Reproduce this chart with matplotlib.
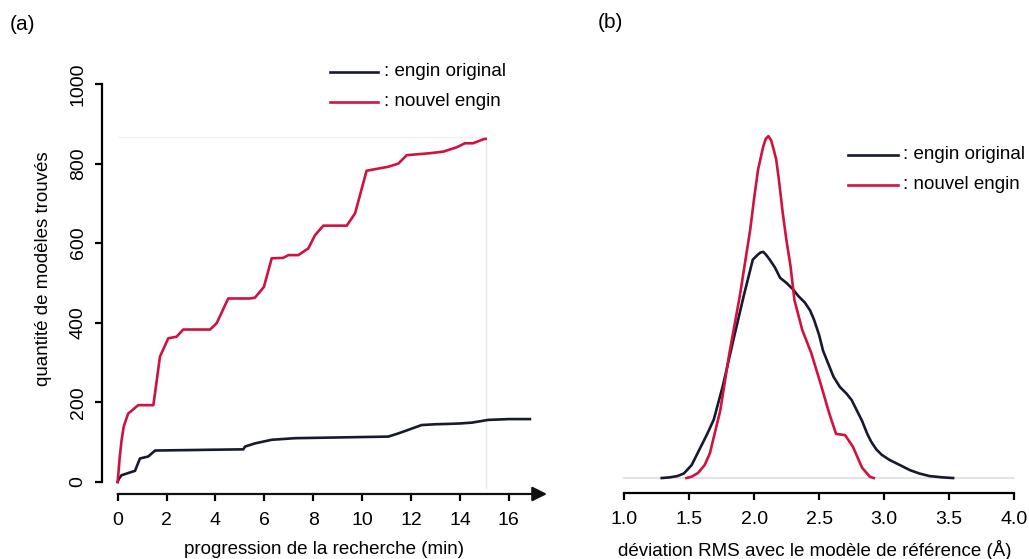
import matplotlib
matplotlib.use('Agg')
import matplotlib.pyplot as plt

plt.rcParams['font.family'] = ['Liberation Sans', 'DejaVu Sans']

# (a) nombre cumulé de modèles trouvés au cours de la recherche
temps_original = [0.0, 0.05, 0.16, 0.71, 0.91, 1.25, 1.53, 5.14, 5.21, 5.62, 6.30, 7.25,
                  11.07, 11.48, 11.89, 12.43, 13.0, 13.6, 14.0, 14.48, 15.16, 15.6,
                  16.0, 16.86]
modeles_original = [0, 8, 17, 28, 59, 64, 79, 82, 89, 97, 106, 110,
                    114, 122, 131, 143, 145, 146, 147, 149, 156, 157,
                    158, 158]

temps_nouvel = [0.0, 0.08, 0.16, 0.25, 0.43, 0.55, 0.84, 1.46, 1.60, 1.73, 2.07, 2.41, 2.68,
                3.78, 4.05, 4.52, 5.41, 5.61, 5.82, 5.98, 6.30, 6.77, 6.98, 7.39, 7.80,
                8.07, 8.41, 9.37, 9.71, 10.18, 11.07, 11.48, 11.82, 12.77, 13.32, 13.87,
                14.20, 14.54, 14.95, 15.05]
modeles_nouvel = [0, 60, 105, 140, 172, 178, 193, 193, 256, 315, 361, 365, 383,
                  383, 399, 461, 461, 463, 478, 490, 562, 563, 570, 570, 587,
                  620, 644, 644, 675, 782, 792, 800, 821, 826, 830, 841,
                  851, 851, 861, 862]

# (b) densité de la déviation RMS
rms_original = [1.29, 1.35, 1.41, 1.46, 1.52, 1.58, 1.64, 1.69, 1.76, 1.84, 1.92, 1.99,
                2.03, 2.05, 2.07, 2.09, 2.12, 2.16, 2.20, 2.25, 2.30, 2.34, 2.39, 2.43,
                2.46, 2.50, 2.53, 2.57, 2.61, 2.66, 2.71, 2.75, 2.79, 2.83, 2.87, 2.90,
                2.94, 2.98, 3.04, 3.10, 3.20, 3.27, 3.35, 3.45, 3.53]
densite_original = [0, 0.005, 0.015, 0.035, 0.10, 0.22, 0.34, 0.45, 0.71, 1.06, 1.40, 1.68,
                    1.72, 1.735, 1.74, 1.72, 1.68, 1.62, 1.54, 1.50, 1.45, 1.40, 1.35, 1.29,
                    1.22, 1.10, 0.98, 0.88, 0.78, 0.70, 0.65, 0.60, 0.52, 0.44, 0.34, 0.28,
                    0.22, 0.18, 0.14, 0.11, 0.06, 0.035, 0.015, 0.005, 0]

rms_nouvel = [1.48, 1.52, 1.57, 1.62, 1.66, 1.74, 1.81, 1.89, 1.97, 2.00, 2.03, 2.07, 2.09,
              2.11, 2.13, 2.15, 2.17, 2.19, 2.22, 2.25, 2.28, 2.31, 2.37, 2.44, 2.51,
              2.58, 2.63, 2.70, 2.76, 2.83, 2.89, 2.92]
densite_nouvel = [0, 0.01, 0.04, 0.10, 0.19, 0.52, 0.96, 1.40, 1.91, 2.15, 2.37, 2.55, 2.61,
                  2.63, 2.60, 2.53, 2.45, 2.30, 2.04, 1.82, 1.63, 1.37, 1.14, 0.96, 0.73,
                  0.49, 0.34, 0.33, 0.24, 0.08, 0.01, 0]

legende = [': engin original', ': nouvel engin']
noir = '#161a2b'
rouge = '#cf1240'
fs = 13.5
fs_ticks = 14

fig = plt.figure(figsize=(10.29, 5.59), dpi=100)

# ---- panneau (a)
ax1 = fig.add_axes([0.0991, 0.1163, 0.4325, 0.7335])
ybas = -30.2
ax1.set_xlim(-0.642, 17.56)
ax1.set_ylim(ybas, 1000)

# repères gris clairs en fin de recherche
ax1.plot([temps_nouvel[-1], temps_nouvel[-1]], [ybas + 15, modeles_nouvel[-1]],
         color='#e8e8e8', lw=1, zorder=1)
ax1.plot([0, temps_nouvel[-1]], [modeles_nouvel[-1] + 5, modeles_nouvel[-1] + 5],
         color='#f0f0f0', lw=1, zorder=1)

ax1.plot(temps_original, modeles_original, color=noir, lw=1.9, zorder=3)
ax1.plot(temps_nouvel, modeles_nouvel, color=rouge, lw=1.9, zorder=3)

for s in ['top', 'right', 'bottom']:
    ax1.spines[s].set_visible(False)
ax1.spines['left'].set_bounds(0, 1000)
ax1.spines['left'].set_linewidth(1.6)
ax1.set_yticks(range(0, 1001, 200))
ax1.set_yticklabels([str(v) for v in range(0, 1001, 200)], rotation=90, va='center')
ax1.set_xticks(range(0, 17, 2))
ax1.tick_params(axis='both', length=5, width=1.6, labelsize=fs_ticks)
ax1.tick_params(axis='x', pad=8)
ax1.tick_params(axis='y', pad=6)
ax1.annotate('', xy=(17.56, ybas), xytext=(0, ybas), xycoords='data',
             arrowprops=dict(arrowstyle='-|>', lw=1.6, color='#111111',
                             mutation_scale=22, shrinkA=0, shrinkB=0),
             annotation_clip=False)
ax1.set_xlabel('progression de la recherche (min)', fontsize=fs)
ax1.xaxis.set_label_coords(0.5, -0.114)
ax1.set_ylabel('quantité de modèles trouvés', fontsize=fs)
ax1.yaxis.set_label_coords(-0.112, 0.55)

x0, y0 = 330 / 1029, 1 - 72 / 559
for i, (lab, c) in enumerate(zip(legende, [noir, rouge])):
    yy = y0 - i * 30 / 559
    fig.add_artist(plt.Line2D([x0, 378 / 1029], [yy, yy], color=c, lw=1.9))
    fig.text(384 / 1029, yy, lab, fontsize=fs, va='center', ha='left')

fig.text(10 / 1029, 1 - 25 / 559, '(a)', fontsize=15, va='center', ha='left')

# ---- panneau (b)
ax2 = fig.add_axes([0.5928, 0.1181, 0.3984, 0.703])
ax2.set_xlim(0.892, 4.044)
ax2.set_ylim(-0.115, 2.908)
ax2.plot([1.0, 4.0], [0, 0], color='#dedede', lw=1.2, zorder=1)
ax2.plot(rms_original, densite_original, color=noir, lw=1.9, zorder=3)
ax2.plot(rms_nouvel, densite_nouvel, color=rouge, lw=1.9, zorder=3)

for s in ['top', 'right', 'left']:
    ax2.spines[s].set_visible(False)
ax2.spines['bottom'].set_bounds(1.0, 4.0)
ax2.spines['bottom'].set_linewidth(1.6)
ticks_b = [1.0, 1.5, 2.0, 2.5, 3.0, 3.5, 4.0]
ax2.set_xticks(ticks_b)
ax2.set_xticklabels([f'{t:.1f}' for t in ticks_b])
ax2.set_yticks([])
ax2.tick_params(axis='x', length=5, width=1.6, labelsize=fs_ticks, pad=8)
ax2.set_xlabel('déviation RMS avec le modèle de référence (Å)', fontsize=fs)
ax2.xaxis.set_label_coords(0.5, -0.12)

x0, y0 = 848 / 1029, 1 - 155 / 559
for i, (lab, c) in enumerate(zip(legende, [noir, rouge])):
    yy = y0 - i * 30 / 559
    fig.add_artist(plt.Line2D([x0, 898 / 1029], [yy, yy], color=c, lw=1.9))
    fig.text(903 / 1029, yy, lab, fontsize=fs, va='center', ha='left')

fig.text(598 / 1029, 1 - 22 / 559, '(b)', fontsize=15, va='center', ha='left')

fig.savefig('out.png', dpi=100)
